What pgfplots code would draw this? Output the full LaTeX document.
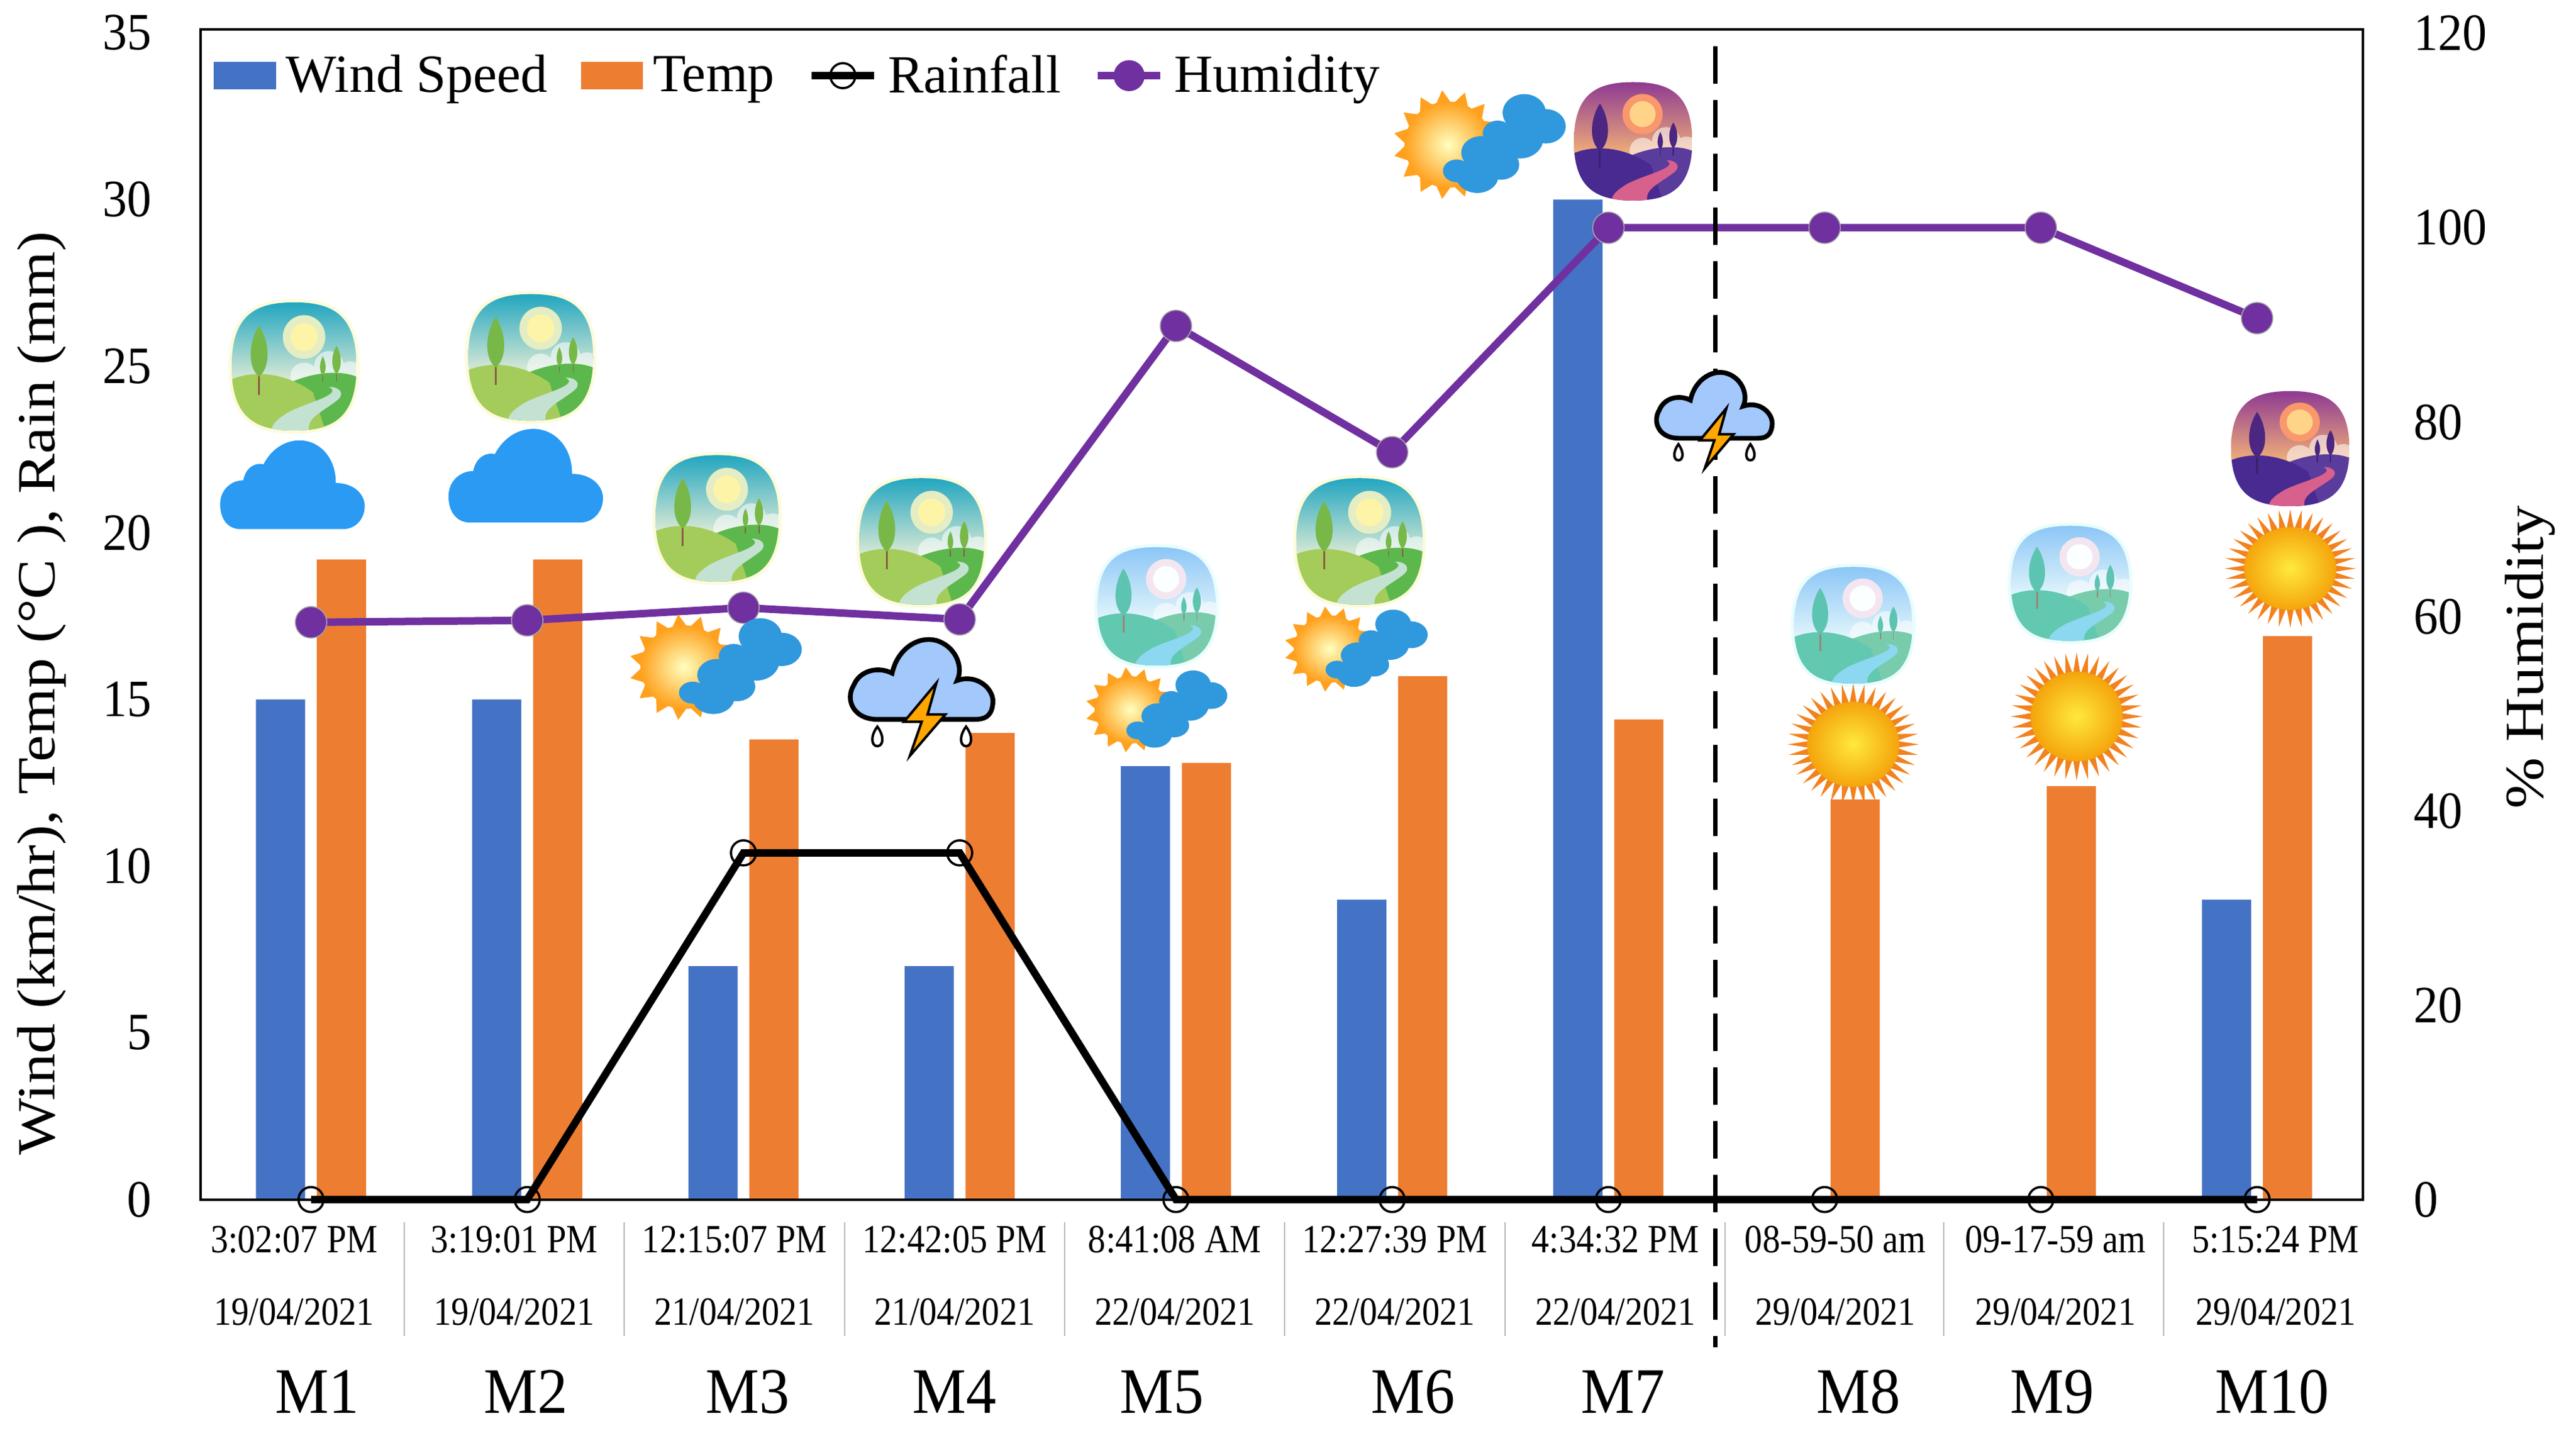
\documentclass[border=0pt]{standalone}
\usepackage{pgfplots}
\pgfplotsset{compat=1.18}
\usepackage{fontspec}
\setmainfont{Liberation Serif}
\newfontfamily\tickfont[FakeStretch=0.93]{Liberation Serif}
\newfontfamily\narrowfont[FakeStretch=0.88]{Liberation Serif}
\newfontfamily\widefont[FakeStretch=1.12]{Liberation Serif}
\definecolor{wind}{HTML}{4472C4}
\definecolor{temp}{HTML}{ED7D31}
\definecolor{humid}{HTML}{7030A0}
% icon colours
\definecolor{cloudblue}{HTML}{2A9AF2}
\definecolor{cloudb}{HTML}{3098DC}
\definecolor{stormfill}{HTML}{A2C8FC}
\definecolor{dayhalo}{HTML}{FDFBDC}\definecolor{daytop}{HTML}{22A6C0}\definecolor{daymid}{HTML}{BFE0C8}\definecolor{daybot}{HTML}{F6F4D8}
\definecolor{dayglow}{HTML}{E4EDC4}\definecolor{daysun}{HTML}{FDF4A8}\definecolor{dayhilla}{HTML}{A4CC5A}\definecolor{dayhillb}{HTML}{5CB84C}
\definecolor{dayriver}{HTML}{C4E2D2}\definecolor{daytree}{HTML}{78B848}\definecolor{daytrunk}{HTML}{8C5A48}
\definecolor{dawnhalo}{HTML}{EAFDFD}\definecolor{dawntop}{HTML}{8CC6F6}\definecolor{dawnmid}{HTML}{E8C8E2}\definecolor{dawnbot}{HTML}{EEFCFC}
\definecolor{dawnglow}{HTML}{F4E6F0}\definecolor{dawnsun}{HTML}{FBFFFF}\definecolor{dawnhilla}{HTML}{62C8B0}\definecolor{dawnhillb}{HTML}{78CCAC}
\definecolor{dawnriver}{HTML}{8CD8F0}\definecolor{dawntree}{HTML}{5CC4B0}\definecolor{dawntrunk}{HTML}{9C8478}
\definecolor{dusktop}{HTML}{8E3A92}\definecolor{duskmid}{HTML}{D8607C}\definecolor{duskbot}{HTML}{FFC074}
\definecolor{duskglow}{HTML}{F8986C}\definecolor{dusksun}{HTML}{FFD488}\definecolor{duskhilla}{HTML}{482A90}\definecolor{duskhillb}{HTML}{5A3C9C}
\definecolor{duskriver}{HTML}{D8608C}\definecolor{dusktree}{HTML}{4C2680}\definecolor{dusktrunk}{HTML}{3C2068}
\definecolor{sunray}{HTML}{F2821E}\definecolor{suninner}{HTML}{FFE93C}\definecolor{sunouter}{HTML}{F4A40C}
\definecolor{raysoft}{HTML}{FFA11E}

\newcommand{\squircle}{(0,50) .. controls (0,9) and (20,0) .. (50,0) .. controls (80,0) and (100,9) .. (100,50) .. controls (100,91) and (80,100) .. (50,100) .. controls (20,100) and (0,91) .. (0,50) -- cycle}

% #1 colour prefix, x y w h
\newcommand{\scene}[5]{%
 \begin{scope}[shift={(#2,#3)},xscale=#4/100,yscale=#5/100]
  \filldraw[fill=white,draw=\halo,line width=2.6pt] \squircle;
  \begin{scope}
   \clip \squircle;
   \shade[top color=#1top,middle color=#1mid,bottom color=#1bot] (0,0) rectangle (100,70);
   \fill[#1glow] (58,27) circle (17);
   \fill[#1sun] (58,27) circle (11);
   \fill[white,opacity=.55] (58,58) circle (11) (78,50) circle (12) (95,56) circle (10);
   \fill[#1hillb] (40,66) .. controls (60,55) and (85,52) .. (100,58) -- (100,100) -- (40,100) -- cycle;
   \fill[#1hilla] (0,60) .. controls (20,52) and (45,56) .. (65,70) -- (75,100) -- (0,100) -- cycle;
   \fill[#1river] (78,66) .. controls (90,72) and (60,78) .. (45,86) .. controls (35,92) and (32,96) .. (32,100) -- (62,100) .. controls (60,90) and (72,86) .. (85,76) .. controls (90,72) and (88,66) .. (78,66) -- cycle;
   \draw[#1trunk,line width=.7pt] (22,28) -- (22,72);
   \fill[#1tree] (22,18) .. controls (30,30) and (32,50) .. (22,58) .. controls (12,50) and (14,30) .. (22,18) -- cycle;
   \draw[#1trunk,line width=.4pt] (84,42) -- (84,62) (73,48) -- (73,62);
   \fill[#1tree] (84,34) .. controls (89,42) and (88,52) .. (84,56) .. controls (80,52) and (79,42) .. (84,34) -- cycle;
   \fill[#1tree] (73,42) .. controls (76,48) and (76,54) .. (73,57) .. controls (70,54) and (70,48) .. (73,42) -- cycle;
  \end{scope}
 \end{scope}}
\newcommand{\dayscene}[4]{{\def\halo{dayhalo}\scene{day}{#1}{#2}{#3}{#4}}}
\newcommand{\dawnscene}[4]{{\def\halo{dawnhalo}\scene{dawn}{#1}{#2}{#3}{#4}}}
\newcommand{\duskscene}[4]{{\def\halo{white}\scene{dusk}{#1}{#2}{#3}{#4}}}
% plain blue cloud
\newcommand{\bluecloud}[4]{%
 \begin{scope}[shift={(#1,#2)},xscale=#3/100,yscale=#4/100]
  \fill[cloudblue] (0,72) .. controls (0,55) and (8,45) .. (16,45) .. controls (18,28) and (26,25) .. (30,27) .. controls (36,8) and (46,0) .. (55,0) .. controls (68,0) and (80,18) .. (80,48) .. controls (92,48) and (100,60) .. (100,74) .. controls (100,88) and (94,100) .. (85,100) -- (14,100) .. controls (5,100) and (0,88) .. (0,72) -- cycle;
 \end{scope}}
\newcommand{\lobed}{\fill[cloudb] (18,55) circle (18) (50,26) circle (26) (76,45) circle (24) (45,62) circle (28);}
% sun behind two clouds
\newcommand{\suncloud}[4]{%
 \begin{scope}[shift={(#1,#2)},xscale=#3/100,yscale=#4/100]
  \foreach \a in {0,24,...,336}{\fill[raysoft] ({29+26*cos(\a-10)},{50+40*sin(\a-10)}) -- ({29+33*cos(\a)},{50+52*sin(\a)}) -- ({29+26*cos(\a+10)},{50+40*sin(\a+10)}) -- cycle;}
  \shade[inner color=yellow!25!white,outer color=raysoft] (29,50) circle[x radius=26,y radius=41];
  \begin{scope}[shift={(50,2)},xscale=.5,yscale=.68]\lobed\end{scope}
  \begin{scope}[shift={(26,42)},xscale=.46,yscale=.6]\lobed\end{scope}
 \end{scope}}
% storm cloud, black outline
\newcommand{\stormcloud}[4]{%
 \begin{scope}[shift={(#1,#2)},xscale=#3/100,yscale=#4/100]
  \filldraw[fill=stormfill,draw=black,line width=1.9pt] (20,70) .. controls (4,70) and (-2,54) .. (4,42) .. controls (8,30) and (20,26) .. (30,32) .. controls (34,10) and (50,0) .. (62,6) .. controls (74,12) and (78,28) .. (74,38) .. controls (88,32) and (100,46) .. (98,58) .. controls (97,68) and (92,70) .. (86,70) -- cycle;
  \filldraw[fill=orange!70!yellow,draw=black,line width=1pt] (60,40) -- (38,72) -- (50,72) -- (42,100) -- (66,66) -- (54,66) -- cycle;
  \foreach \dx in {20,80}{\filldraw[fill=white,draw=black,line width=1pt] (\dx,76) .. controls (\dx+5,84) and (\dx+4,92) .. (\dx,92) .. controls (\dx-4,92) and (\dx-5,84) .. (\dx,76) -- cycle;}
 \end{scope}}
% spiky sun
\newcommand{\spikysun}[4]{%
 \begin{scope}[shift={(#1,#2)},xscale=#3/100,yscale=#4/100]
  \foreach \a in {0,10,...,350}{\fill[sunray] ({50+33*cos(\a-5)},{50+33*sin(\a-5)}) -- ({50+50*cos(\a)},{50+50*sin(\a)}) -- ({50+33*cos(\a+5)},{50+33*sin(\a+5)}) -- cycle;}
  \shade[inner color=suninner,outer color=sunouter] (50,50) circle (35);
 \end{scope}}

\begin{document}
\begin{tikzpicture}
\useasboundingbox (0,0) rectangle (1030.75pt,-572.5pt);
\begin{axis}[
  at={(80.2pt,-479.9pt)}, anchor=south west,
  scale only axis, width=865.2pt, height=468.1pt,
  xmin=0.4886, xmax=10.4886, ymin=0, ymax=35.1,
  ytick={0,5,...,35}, ytick pos=left,
  xtick={0.922,1.94,2.959,3.977,4.995,6.013,7.032,8.05,9.068,10.086},
  xticklabels={
    {3:02:07 PM\\[11pt]19/04/2021},{3:19:01 PM\\[11pt]19/04/2021},
    {12:15:07 PM\\[11pt]21/04/2021},{12:42:05 PM\\[11pt]21/04/2021},
    {8:41:08 AM\\[11pt]22/04/2021},{12:27:39 PM\\[11pt]22/04/2021},
    {4:34:32 PM\\[11pt]22/04/2021},{08-59-50 am\\[11pt]29/04/2021},
    {09-17-59 am\\[11pt]29/04/2021},{5:15:24 PM\\[11pt]29/04/2021}},
  xtick pos=bottom, major tick length=0pt,
  x tick label style={align=center,anchor=north,yshift=-7pt,font=\narrowfont\fontsize{16}{18}\selectfont},
  /pgf/number format/assume math mode=true,
  y tick label style={font=\tickfont\fontsize{21}{24}\selectfont,xshift=-16pt},
  ylabel={Wind (km/hr), Temp (°C ), Rain (mm)},
  ylabel style={at={(axis description cs:-0.0735,0.4326)},anchor=center,font=\widefont\fontsize{21.5}{24}\selectfont},
  axis line style={line width=1pt},
  clip=false,
]
\addplot[ybar,bar width=19.7pt,bar shift=-12.2pt,fill=wind,draw=none] coordinates {
  (1,15) (2,15) (3,7) (4,7) (5,13) (6,9) (7,30) (8,0) (9,0) (10,9)};
\addplot[ybar,bar width=19.7pt,bar shift=12.2pt,fill=temp,draw=none] coordinates {
  (1,19.2) (2,19.2) (3,13.8) (4,14.0) (5,13.1) (6,15.7) (7,14.4) (8,12.0) (9,12.4) (10,16.9)};
\addplot[black,line width=3pt,mark=o,mark size=5pt,mark options={line width=.9pt,fill=none}] coordinates {
  (1,0) (2,0) (3,10.4) (4,10.4) (5,0) (6,0) (7,0) (8,0) (9,0) (10,0)};
\end{axis}
\begin{axis}[
  at={(80.2pt,-479.9pt)}, anchor=south west,
  scale only axis, width=865.2pt, height=468.1pt,
  xmin=0.4886, xmax=10.4886, ymin=0, ymax=120.4,
  ytick={0,20,...,120}, ytick pos=right, yticklabel pos=right,
  xtick={1.029,1.994,3.019,3.977,4.934,6.097,7.069,8.156,9.053,10.069},
  xticklabels={M1,M2,M3,M4,M5,M6,M7,M8,M9,M10},
  xtick pos=bottom, major tick length=0pt,
  x tick label style={anchor=base,yshift=-85.5pt,font=\tickfont\fontsize{26}{28}\selectfont},
  /pgf/number format/assume math mode=true,
  y tick label style={font=\tickfont\fontsize{21}{24}\selectfont,xshift=17pt},
  ylabel={\% Humidity},
  ylabel style={at={(axis description cs:1.0775,0.4635)},anchor=center,font=\widefont\fontsize{22}{24}\selectfont},
  axis line style={line width=1pt},
  clip=false,
  legend columns=4,
  legend cell align=left,
  legend style={at={(0.006,0.983)},anchor=north west,draw=none,fill=none,inner sep=0pt,
    font=\fontsize{21.5}{24}\selectfont,
    /tikz/every odd column/.append style={column sep=2pt},
    /tikz/every even column/.append style={column sep=11.3pt}},
]
\addlegendimage{legend image code/.code={\fill[wind] (0,-5.3pt) rectangle (24.4pt,5.3pt);}}
\addlegendimage{legend image code/.code={\fill[temp] (0,-5.3pt) rectangle (24.4pt,5.3pt);}}
\addlegendimage{legend image code/.code={\draw[black,line width=3pt] (0,0) -- (25pt,0);\draw[black,line width=.9pt] (12.5pt,0) circle (5pt);}}
\addlegendimage{legend image code/.code={\draw[humid,line width=3pt] (0,0) -- (25pt,0);\fill[humid] (12.5pt,0) circle (6pt);}}
\legend{Wind Speed,Temp,Rainfall,Humidity}
\addplot[humid,line width=3pt,mark=*,mark size=6.3pt,mark options={fill=humid,draw=gray!70,line width=.4pt},forget plot] coordinates {
  (1,59.4) (2,59.6) (3,60.9) (4,59.7) (5,89.9) (6,76.9) (7,100) (8,100) (9,100) (10,90.7)};
\end{axis}
\begin{scope}[x=0.6574pt,y=-0.6574pt]
  % separators below the axis
  \foreach \sx in {246,380,514,648,782,916,1050,1183,1317}{\draw[gray!55,line width=.5pt] (\sx,744) -- (\sx,813);}
  \draw[black,line width=1.6pt,dash pattern=on 15pt off 6.5pt] (1044,28) -- (1044,820);
  % weather icons
  \dayscene{141}{184}{76}{78}
  \dayscene{285}{179}{76}{77}
  \dayscene{399}{277}{75}{77}
  \dayscene{523}{291}{76}{77}
  \dayscene{789}{291}{77}{77}
  \dawnscene{668}{333}{72}{72}
  \dawnscene{1092}{345}{72}{71}
  \dawnscene{1224}{320}{72}{70}
  \duskscene{958}{50}{72}{72}
  \duskscene{1358}{238}{72}{70}
  \bluecloud{134}{268}{88}{54}
  \bluecloud{273}{261}{94}{57}
  \suncloud{387}{375}{101}{62}
  \suncloud{664}{407}{83}{50}
  \suncloud{785}{370}{84}{50}
  \suncloud{852}{56}{101}{64}
  \stormcloud{516}{386}{90}{74}
  \stormcloud{1007}{224}{73}{61}
  \spikysun{1088}{416}{80}{74}
  \spikysun{1224}{397}{80}{78}
  \spikysun{1354}{310}{80}{72}
\end{scope}
\end{tikzpicture}
\end{document}
